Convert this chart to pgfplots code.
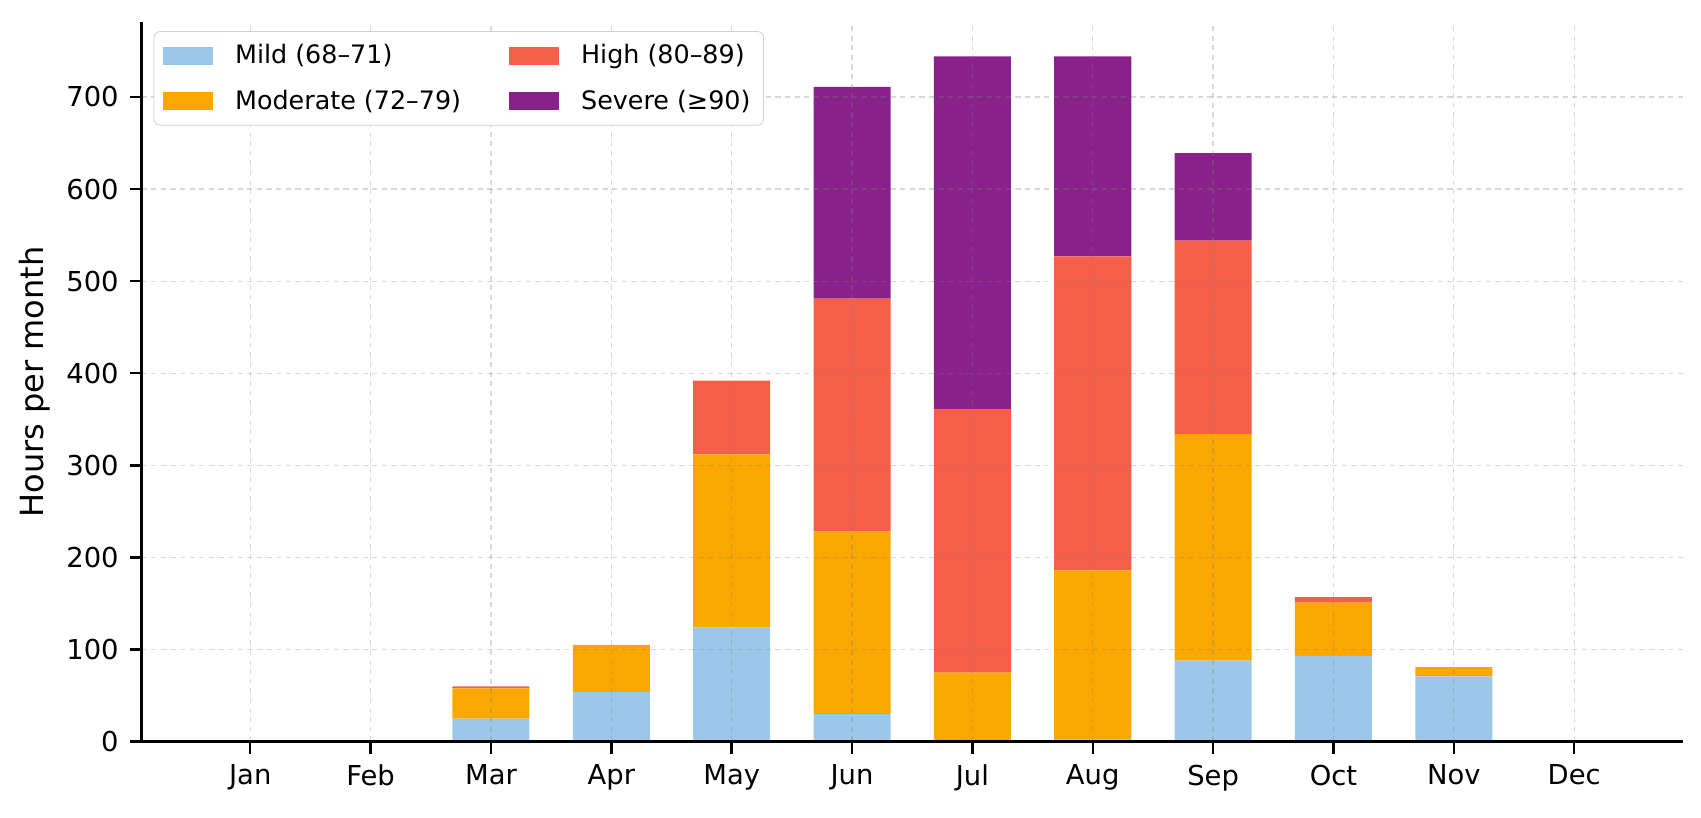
\documentclass[border=0pt]{standalone}
\usepackage{fontspec}
\setmainfont{DejaVu Sans}
\usepackage{pgfplots}
\usepackage{pgfplotstable}
\pgfplotsset{compat=1.18}
\definecolor{cMild}{HTML}{9BC8E8}
\definecolor{cMod}{HTML}{FAA800}
\definecolor{cHigh}{HTML}{F55F4A}
\definecolor{cSev}{HTML}{88228A}

\pgfplotstableread{
x mild mod high sev
0 0 0 0 0
1 0 0 0 0
2 25 33 2 0
3 54 51 0 0
4 124 188 80 0
5 30 198 253 230
6 0 75 286 383
7 3 183 341 217
8 88 246 210 95
9 93 58 6 0
10 71 10 0 0
11 0 0 0 0
}\datatab

\begin{document}
\begin{tikzpicture}
\begin{axis}[
  scale only axis, width=770.5pt, height=359.75pt,
  xmin=-0.902, xmax=11.902, ymin=0, ymax=781.2,
  ybar stacked, bar width=0.64,
  axis x line*=bottom, axis y line*=left,
  axis line style={line width=1.5pt, -},
  tick align=outside, major tick length=6pt,
  tick style={line width=1.2pt, black},
  xtick={0,...,11},
  xticklabels={Jan,Feb,Mar,Apr,May,Jun,Jul,Aug,Sep,Oct,Nov,Dec},
  ytick={0,100,...,700},
  /pgf/number format/assume math mode=true,
  ticklabel style={font=\fontsize{13.7}{16}\selectfont},
  yticklabel style={xshift=-2pt},
  xticklabel style={yshift=-2pt},
  ylabel={Hours per month},
  ylabel style={font=\fontsize{16}{19}\selectfont, at={(axis description cs:-0.0692,0.5)}, anchor=center},
  grid=major,
  major grid style={dash pattern=on 2.6pt off 2.2pt, line width=0.6pt, gray, opacity=0.3},
  axis on top,
  legend columns=2, transpose legend,
  legend cell align=left,
  legend style={at={(axis description cs:0,1)}, anchor=north west,
    xshift=6pt, yshift=-4.5pt, draw=black!18, rounded corners=3pt,
    fill=white, font=\fontsize{12.7}{15}\selectfont,
    inner xsep=4.5pt, inner ysep=4.5pt, row sep=7.5pt,
    /tikz/every even column/.append style={column sep=22pt}},
  legend image code/.code={\fill[#1, sharp corners] (0pt,-4.5pt) rectangle (25pt,4.5pt); \path (34pt,0pt);},
]
\addplot[fill=cMild, draw=none] table[x=x, y=mild] {\datatab};
\addlegendentry{Mild (68–71)}
\addplot[fill=cMod, draw=none] table[x=x, y=mod] {\datatab};
\addlegendentry{Moderate (72–79)}
\addplot[fill=cHigh, draw=none] table[x=x, y=high] {\datatab};
\addlegendentry{High (80–89)}
\addplot[fill=cSev, draw=none] table[x=x, y=sev] {\datatab};
\addlegendentry{Severe (≥90)}
\end{axis}
\pgfresetboundingbox
\path[use as bounding box] ([shift={(-70.85pt,-38.15pt)}]current axis.south west) rectangle ([shift={(9.15pt,11.1pt)}]current axis.north east);
\end{tikzpicture}
\end{document}
